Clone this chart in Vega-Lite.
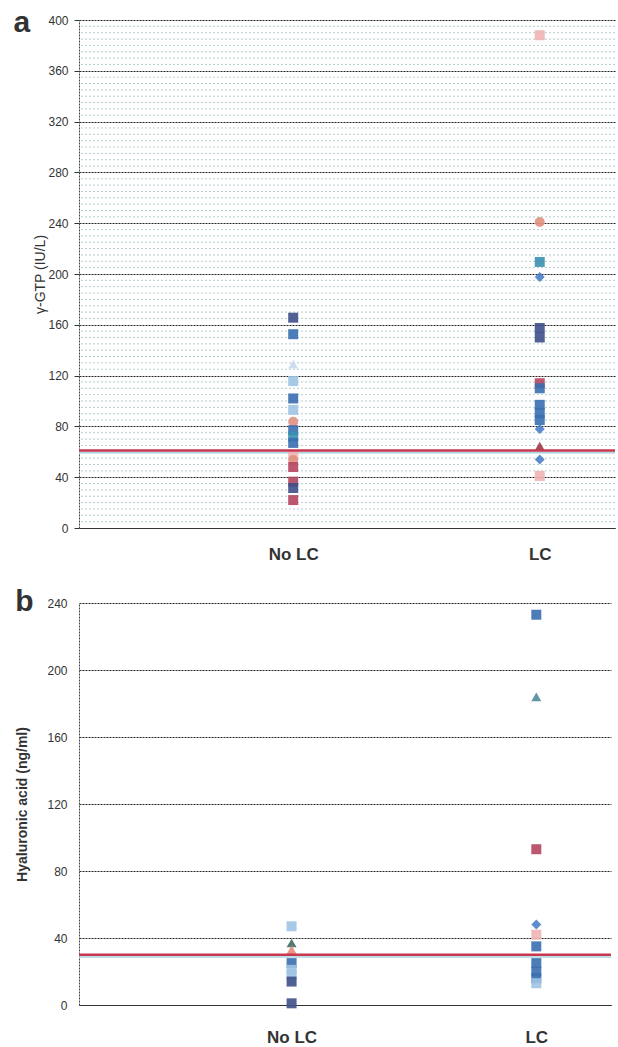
{
  "$schema": "https://vega.github.io/schema/vega-lite/v6.json",
  "background": "white",
  "padding": {"left": 13, "top": 8, "right": 2, "bottom": 0},
  "config": {"view": {"stroke": null}, "font": "Liberation Sans"},
  "spacing": 25,
  "datasets": {
    "minor": [
      {"v": 5}, {"v": 10}, {"v": 15}, {"v": 20}, {"v": 25}, {"v": 30}, {"v": 35},
      {"v": 45}, {"v": 50}, {"v": 55}, {"v": 60}, {"v": 65}, {"v": 70}, {"v": 75},
      {"v": 85}, {"v": 90}, {"v": 95}, {"v": 100}, {"v": 105}, {"v": 110}, {"v": 115},
      {"v": 125}, {"v": 130}, {"v": 135}, {"v": 140}, {"v": 145}, {"v": 150}, {"v": 155},
      {"v": 165}, {"v": 170}, {"v": 175}, {"v": 180}, {"v": 185}, {"v": 190}, {"v": 195},
      {"v": 205}, {"v": 210}, {"v": 215}, {"v": 220}, {"v": 225}, {"v": 230}, {"v": 235},
      {"v": 245}, {"v": 250}, {"v": 255}, {"v": 260}, {"v": 265}, {"v": 270}, {"v": 275},
      {"v": 285}, {"v": 290}, {"v": 295}, {"v": 300}, {"v": 305}, {"v": 310}, {"v": 315},
      {"v": 325}, {"v": 330}, {"v": 335}, {"v": 340}, {"v": 345}, {"v": 350}, {"v": 355},
      {"v": 365}, {"v": 370}, {"v": 375}, {"v": 380}, {"v": 385}, {"v": 390}, {"v": 395}
    ],
    "gtp": [
      {"group": "No LC", "value": 165.6, "type": "A"},
      {"group": "No LC", "value": 152.6, "type": "B"},
      {"group": "No LC", "value": 129, "type": "J"},
      {"group": "No LC", "value": 115.7, "type": "C"},
      {"group": "No LC", "value": 102, "type": "B"},
      {"group": "No LC", "value": 93, "type": "C"},
      {"group": "No LC", "value": 83.7, "type": "D"},
      {"group": "No LC", "value": 77, "type": "B"},
      {"group": "No LC", "value": 72, "type": "G"},
      {"group": "No LC", "value": 67, "type": "B"},
      {"group": "No LC", "value": 57.5, "type": "F"},
      {"group": "No LC", "value": 53.5, "type": "D"},
      {"group": "No LC", "value": 48, "type": "E"},
      {"group": "No LC", "value": 36.5, "type": "E"},
      {"group": "No LC", "value": 31.5, "type": "A"},
      {"group": "No LC", "value": 22, "type": "E"},
      {"group": "LC", "value": 388, "type": "F"},
      {"group": "LC", "value": 241, "type": "D"},
      {"group": "LC", "value": 209.5, "type": "G"},
      {"group": "LC", "value": 197.6, "type": "I"},
      {"group": "LC", "value": 157.5, "type": "A"},
      {"group": "LC", "value": 150, "type": "A"},
      {"group": "LC", "value": 114, "type": "E"},
      {"group": "LC", "value": 110, "type": "B"},
      {"group": "LC", "value": 97, "type": "B"},
      {"group": "LC", "value": 90.5, "type": "B"},
      {"group": "LC", "value": 85, "type": "B"},
      {"group": "LC", "value": 78, "type": "I"},
      {"group": "LC", "value": 64.5, "type": "K"},
      {"group": "LC", "value": 54, "type": "I"},
      {"group": "LC", "value": 41, "type": "F"}
    ],
    "ha": [
      {"group": "No LC", "value": 47, "type": "C"},
      {"group": "No LC", "value": 37, "type": "H"},
      {"group": "No LC", "value": 33, "type": "L"},
      {"group": "No LC", "value": 25, "type": "B"},
      {"group": "No LC", "value": 21, "type": "C"},
      {"group": "No LC", "value": 18, "type": "C"},
      {"group": "No LC", "value": 14, "type": "A"},
      {"group": "No LC", "value": 1, "type": "A"},
      {"group": "LC", "value": 233, "type": "B"},
      {"group": "LC", "value": 184, "type": "M"},
      {"group": "LC", "value": 93, "type": "E"},
      {"group": "LC", "value": 48, "type": "I"},
      {"group": "LC", "value": 42, "type": "F"},
      {"group": "LC", "value": 35, "type": "B"},
      {"group": "LC", "value": 25, "type": "B"},
      {"group": "LC", "value": 20, "type": "B"},
      {"group": "LC", "value": 16, "type": "B"},
      {"group": "LC", "value": 13, "type": "C"}
    ]
  },
  "vconcat": [
    {
      "title": {"text": "a", "orient": "left", "anchor": "end", "angle": 0, "align": "right", "fontSize": 30, "fontWeight": "bold", "color": "#333", "baseline": "top", "offset": -13, "dy": -6},
      "width": 536,
      "height": 508,
      "layer": [
        {
          "data": {"name": "minor"},
          "mark": {"type": "rule", "color": "#7fa9ad", "strokeWidth": 0.8, "strokeDash": [2, 2], "opacity": 0.75},
          "encoding": {"y": {"field": "v", "type": "quantitative"}}
        },
        {
          "data": {"values": [{"cutoff": 59.3}]},
          "mark": {"type": "rule", "color": "#a9d3e0", "strokeWidth": 1.5},
          "encoding": {"y": {"field": "cutoff", "type": "quantitative"}}
        },
        {
          "data": {"name": "gtp"},
          "mark": {"type": "point", "filled": true, "size": 100, "opacity": 0.9},
          "encoding": {
            "x": {"field": "group", "type": "nominal",
              "scale": {"type": "point", "domain": ["No LC", "LC"], "padding": 0.587, "align": 0.74},
              "axis": {"title": null, "labelFontSize": 17, "labelFontWeight": "bold", "labelColor": "#333", "ticks": false, "domain": true, "domainColor": "#333", "labelPadding": 18, "labelAngle": 0, "grid": false}},
            "y": {"field": "value", "type": "quantitative",
              "scale": {"domain": [0, 400], "nice": false},
              "axis": {"title": "γ-GTP (IU/L)", "titleFontSize": 14, "titleFontWeight": "normal", "titleColor": "#333", "titlePadding": 0,
                "values": [0, 40, 80, 120, 160, 200, 240, 280, 320, 360, 400],
                "labelOverlap": false, "labelFontSize": 12, "labelColor": "#333", "labelPadding": 6,
                "grid": true, "gridColor": "#222", "gridDash": [2, 1], "gridWidth": 1.1,
                "tickColor": "#333", "tickSize": 5,
                "domainColor": "#444", "domainDash": [2, 1]}},
            "color": {"field": "type", "type": "nominal", "legend": null,
              "scale": {"domain": ["A","B","C","D","E","F","G","H","I","J","K","L","M"],
                "range": ["#3e5089","#3a6fb0","#9ec4e4","#e0907e","#b4455f","#efb2b4","#3b8fb0","#3d6e62","#4a7fc8","#c9d9ea","#9c3a48","#e58a74","#4f8b9c"]}},
            "shape": {"field": "type", "type": "nominal", "legend": null,
              "scale": {"domain": ["A","B","C","D","E","F","G","H","I","J","K","L","M"],
                "range": ["square","square","square","circle","square","square","square","triangle-up","diamond","triangle-up","triangle-up","triangle-up","triangle-up"]}}
          }
        },
        {
          "data": {"values": [{"cutoff": 61}]},
          "mark": {"type": "rule", "color": "#c8384f", "strokeWidth": 2.5},
          "encoding": {"y": {"field": "cutoff", "type": "quantitative"}}
        }
      ]
    },
    {
      "title": {"text": "b", "orient": "left", "anchor": "end", "angle": 0, "align": "right", "fontSize": 30, "fontWeight": "bold", "color": "#333", "baseline": "top", "offset": 0, "dx": 36, "dy": -10},
      "width": 532,
      "height": 402,
      "layer": [
        {
          "data": {"values": [{"cutoff": 28.6}]},
          "mark": {"type": "rule", "color": "#a9d3e0", "strokeWidth": 1.5},
          "encoding": {"y": {"field": "cutoff", "type": "quantitative"}}
        },
        {
          "data": {"name": "ha"},
          "mark": {"type": "point", "filled": true, "size": 100, "opacity": 0.9},
          "encoding": {
            "x": {"field": "group", "type": "nominal",
              "scale": {"type": "point", "domain": ["No LC", "LC"], "padding": 0.587, "align": 0.74},
              "axis": {"title": null, "labelFontSize": 17, "labelFontWeight": "bold", "labelColor": "#333", "ticks": false, "domain": true, "domainColor": "#333", "labelPadding": 24, "labelAngle": 0, "grid": false}},
            "y": {"field": "value", "type": "quantitative",
              "scale": {"domain": [0, 240], "nice": false},
              "axis": {"title": "Hyaluronic acid (ng/ml)", "titleFontSize": 14, "titleFontWeight": "bold", "titleColor": "#333", "titlePadding": 17,
                "values": [0, 40, 80, 120, 160, 200, 240],
                "labelOverlap": false, "labelFontSize": 12, "labelColor": "#333", "labelPadding": 12,
                "grid": true, "gridColor": "#222", "gridDash": [2, 1], "gridWidth": 1.1,
                "ticks": false,
                "domainColor": "#444", "domainDash": [2, 1]}},
            "color": {"field": "type", "type": "nominal", "legend": null,
              "scale": {"domain": ["A","B","C","D","E","F","G","H","I","J","K","L","M"],
                "range": ["#3e5089","#3a6fb0","#9ec4e4","#e0907e","#b4455f","#efb2b4","#3b8fb0","#3d6e62","#4a7fc8","#c9d9ea","#9c3a48","#e58a74","#4f8b9c"]}},
            "shape": {"field": "type", "type": "nominal", "legend": null,
              "scale": {"domain": ["A","B","C","D","E","F","G","H","I","J","K","L","M"],
                "range": ["square","square","square","circle","square","square","square","triangle-up","diamond","triangle-up","triangle-up","triangle-up","triangle-up"]}}
          }
        },
        {
          "data": {"values": [{"cutoff": 30}]},
          "mark": {"type": "rule", "color": "#c8384f", "strokeWidth": 2.5},
          "encoding": {"y": {"field": "cutoff", "type": "quantitative"}}
        }
      ]
    }
  ],
  "resolve": {"scale": {"color": "independent", "shape": "independent"}}
}
